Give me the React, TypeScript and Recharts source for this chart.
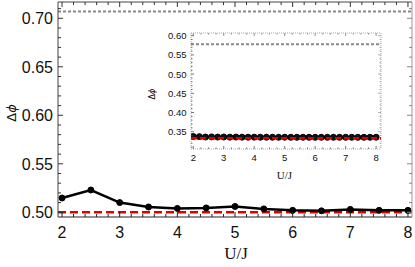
import React from 'react';
import { LineChart, Line, XAxis, YAxis, ReferenceLine } from 'recharts';

// ---------- data ----------
const mainU = [2, 2.5, 3, 3.5, 4, 4.5, 5, 5.5, 6, 6.5, 7, 7.5, 8];
const mainDphi = [0.5147, 0.523, 0.51, 0.5055, 0.504, 0.5045, 0.506, 0.5035, 0.502, 0.5015, 0.503, 0.502, 0.502];
const mainUpper = 0.7071;
const mainLower = 0.5;

const insetU = [2, 2.2, 2.4, 2.6, 2.8, 3, 3.2, 3.4, 3.6, 3.8, 4, 4.2, 4.4, 4.6, 4.8, 5, 5.2, 5.4, 5.6, 5.8, 6, 6.2, 6.4, 6.6, 6.8, 7, 7.2, 7.4, 7.6, 7.8, 8];
const insetDphi = [0.3375, 0.3372, 0.3362, 0.3365, 0.336, 0.3362, 0.3358, 0.336, 0.3358, 0.3357, 0.3358, 0.3356, 0.3357, 0.3356, 0.3355, 0.3356, 0.3355, 0.3355, 0.3356, 0.3355, 0.3354, 0.3355, 0.3354, 0.3355, 0.3354, 0.3354, 0.3355, 0.3354, 0.3354, 0.3355, 0.3356];
const insetUpper = 0.5774;
const insetLower = 0.3333;

// ---------- ticks ----------
const mainXMajor = [2, 3, 4, 5, 6, 7, 8];
const mainXLabels = ['2', '3', '4', '5', '6', '7', '8'];
const mainYMajor = [0.5, 0.55, 0.6, 0.65, 0.7];
const mainYLabels = ['0.50', '0.55', '0.60', '0.65', '0.70'];
const insetXMajor = [2, 3, 4, 5, 6, 7, 8];
const insetXLabels = ['2', '3', '4', '5', '6', '7', '8'];
const insetYMajor = [0.35, 0.4, 0.45, 0.5, 0.55, 0.6];
const insetYLabels = ['0.35', '0.40', '0.45', '0.50', '0.55', '0.60'];

const steps = (a: number, b: number, s: number) => {
  const out: number[] = [];
  const n = Math.round((b - a) / s);
  for (let i = 0; i <= n; i++) out.push(Math.round((a + i * s) * 10000) / 10000);
  return out;
};

const mainXTicks = steps(2.0, 8.0, 0.2);
const mainYTicks = steps(0.5, 0.71, 0.01);
const insetXTicks = steps(2, 8, 0.25);
const insetYTicks = steps(0.31, 0.6, 0.01);

const mainData = mainU.map((u, i) => ({ u, d: mainDphi[i] }));
const insetData = insetU.map((u, i) => ({ u, d: insetDphi[i] }));

type Side = 'bottom' | 'top' | 'left' | 'right';

function makeTick(
  side: Side,
  majors: number[],
  labels: string[] | null,
  majorLen: number,
  minorLen: number,
  color: string,
  fontSize: number,
  offset: number,
  width = 1
) {
  return (props: any) => {
    const { x, y, payload } = props;
    const v = payload.value;
    const idx = majors.findIndex((m) => Math.abs(m - v) < 1e-6);
    const major = idx >= 0;
    const len = major ? majorLen : minorLen;
    let line: any;
    let label: any = null;
    if (side === 'bottom') {
      line = <line x1={x} x2={x} y1={y} y2={y - len} stroke={color} strokeWidth={width} />;
      if (major && labels)
        label = (
          <text x={x} y={y + offset} textAnchor="middle" fontSize={fontSize} fontFamily="'Liberation Sans', Arial, sans-serif" fill="#111">
            {labels[idx]}
          </text>
        );
    } else if (side === 'top') {
      line = <line x1={x} x2={x} y1={y} y2={y + len} stroke={color} strokeWidth={width} />;
    } else if (side === 'left') {
      line = <line x1={x} x2={x + len} y1={y} y2={y} stroke={color} strokeWidth={width} />;
      if (major && labels)
        label = (
          <text x={x - offset} y={y} dy="0.36em" textAnchor="end" fontSize={fontSize} fontFamily="'Liberation Sans', Arial, sans-serif" fill="#111">
            {labels[idx]}
          </text>
        );
    } else {
      line = <line x1={x} x2={x - len} y1={y} y2={y} stroke={color} strokeWidth={width} />;
    }
    return (
      <g>
        {line}
        {label}
      </g>
    );
  };
}

const mainBottomTick = makeTick('bottom', mainXMajor, mainXLabels, 5, 3, '#222', 16, 21);
const mainTopTick = makeTick('top', mainXMajor, null, 5, 3, '#333', 16, 0);
const mainLeftTick = makeTick('left', mainYMajor, mainYLabels, 5, 3, '#333', 16, 5);
const mainRightTick = makeTick('right', mainYMajor, null, 5, 3, '#888', 16, 0);

const insetBottomTick = makeTick('bottom', insetXMajor, insetXLabels, 3, 1.5, '#555', 9.5, 11.5, 0.8);
const insetTopTick = makeTick('top', insetXMajor, null, 3, 1.5, '#777', 9.5, 0, 0.8);
const insetLeftTick = makeTick('left', insetYMajor, insetYLabels, 3, 1.5, '#555', 9.5, 4.5, 0.8);
const insetRightTick = makeTick('right', insetYMajor, null, 3, 1.5, '#999', 9.5, 0, 0.8);

const frameDotted = { stroke: '#aaa', strokeDasharray: '1 1', strokeWidth: 1 };

export default function App() {
  return (
    <div style={{ position: 'absolute', left: 0, top: 0, width: 415, height: 267, background: '#fff' }}>
      <div style={{ position: 'absolute', left: 0, top: 0 }}>
        <LineChart width={415} height={267} data={mainData} margin={{ top: 1, right: 2, bottom: 49, left: 57 }}>
          <XAxis xAxisId="b" type="number" dataKey="u" domain={[1.93, 8.07]} allowDataOverflow ticks={mainXTicks} interval={0} tickSize={0} tickMargin={0} tick={mainBottomTick} axisLine={{ stroke: '#222', strokeWidth: 1 }} tickLine={false} height={1} />
          <XAxis xAxisId="t" orientation="top" type="number" dataKey="u" domain={[1.93, 8.07]} allowDataOverflow ticks={mainXTicks} interval={0} tickSize={0} tickMargin={0} tick={mainTopTick} axisLine={{ stroke: '#444', strokeWidth: 1 }} tickLine={false} height={1} />
          <YAxis yAxisId="l" type="number" domain={[0.49515, 0.7168]} allowDataOverflow ticks={mainYTicks} interval={0} tickSize={0} tickMargin={0} tick={mainLeftTick} axisLine={{ stroke: '#444', strokeWidth: 1 }} tickLine={false} width={1} />
          <YAxis yAxisId="r" orientation="right" type="number" domain={[0.49515, 0.7168]} allowDataOverflow ticks={mainYTicks} interval={0} tickSize={0} tickMargin={0} tick={mainRightTick} axisLine={{ stroke: '#999', strokeWidth: 1 }} tickLine={false} width={1} />
          <ReferenceLine xAxisId="b" yAxisId="l" y={mainUpper} stroke="#888" strokeWidth={2} strokeDasharray="3 2" />
          <ReferenceLine xAxisId="b" yAxisId="l" y={mainLower} stroke="#e00000" strokeWidth={2.5} strokeDasharray="8 4" />
          <Line xAxisId="b" yAxisId="l" type="linear" dataKey="d" stroke="#000" strokeWidth={2.5} dot={{ r: 3, fill: '#000', stroke: '#000', strokeWidth: 1 }} isAnimationActive={false} />
        </LineChart>
      </div>
      <div style={{ position: 'absolute', left: 150, top: 20, background: 'transparent' }}>
        <LineChart width={240} height={170} data={insetData} margin={{ top: 12, right: 8, bottom: 40, left: 40 }}>
          <XAxis xAxisId="b" type="number" dataKey="u" domain={[1.925, 8.16]} allowDataOverflow ticks={insetXTicks} interval={0} tickSize={0} tickMargin={0} tick={insetBottomTick} axisLine={frameDotted} tickLine={false} height={1} />
          <XAxis xAxisId="t" orientation="top" type="number" dataKey="u" domain={[1.925, 8.16]} allowDataOverflow ticks={insetXTicks} interval={0} tickSize={0} tickMargin={0} tick={insetTopTick} axisLine={frameDotted} tickLine={false} height={1} />
          <YAxis yAxisId="l" type="number" domain={[0.305, 0.607]} allowDataOverflow ticks={insetYTicks} interval={0} tickSize={0} tickMargin={0} tick={insetLeftTick} axisLine={frameDotted} tickLine={false} width={1} />
          <YAxis yAxisId="r" orientation="right" type="number" domain={[0.305, 0.607]} allowDataOverflow ticks={insetYTicks} interval={0} tickSize={0} tickMargin={0} tick={insetRightTick} axisLine={frameDotted} tickLine={false} width={1} />
          <ReferenceLine xAxisId="b" yAxisId="l" y={insetUpper} stroke="#888" strokeWidth={2} strokeDasharray="3 2" />
          <Line xAxisId="b" yAxisId="l" type="linear" dataKey="d" stroke="#000" strokeWidth={2} dot={{ r: 3, fill: '#111', stroke: '#000', strokeWidth: 1 }} isAnimationActive={false} />
          <ReferenceLine xAxisId="b" yAxisId="l" y={insetLower} stroke="#e00000" strokeWidth={2.5} strokeDasharray="6 3" zIndex={2000} />
        </LineChart>
      </div>
      <svg width={415} height={267} style={{ position: 'absolute', left: 0, top: 0, pointerEvents: 'none' }}>
        <text x={11} y={113} dy="0.35em" textAnchor="middle" transform="rotate(-90 11 113)" fontSize={13} fontFamily="'DejaVu Sans', 'Liberation Sans', sans-serif" fill="#111">
          Δ<tspan fontStyle="italic">ϕ</tspan>
        </text>
        <text x={236} y={259} textAnchor="middle" fontSize={17} fontFamily="'Liberation Serif', 'Times New Roman', serif" fill="#111">
          U/J
        </text>
        <text x={152.5} y={94} dy="0.35em" textAnchor="middle" transform="rotate(-90 152.5 94)" fontSize={8} fontFamily="'DejaVu Sans', 'Liberation Sans', sans-serif" fill="#111">
          Δ<tspan fontStyle="italic">ϕ</tspan>
        </text>
        <text x={284.5} y={179} textAnchor="middle" fontSize={11} fontFamily="'Liberation Serif', 'Times New Roman', serif" fill="#111">
          U/J
        </text>
      </svg>
    </div>
  );
}
